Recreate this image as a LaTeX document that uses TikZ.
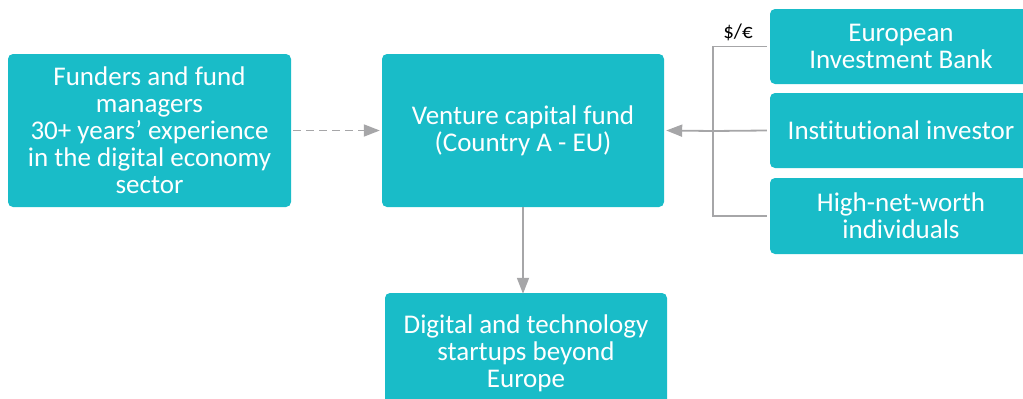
\documentclass[tikz,border=0pt]{standalone}
\usepackage{fontspec}
\setmainfont{Carlito}[Ligatures=NoCommon,Contextuals=NoAlternate,RawFeature={-liga;-dlig}]
\usetikzlibrary{arrows.meta}
\definecolor{boxc}{HTML}{19BCC8}
\definecolor{linec}{HTML}{A6A6A8}
\begin{document}
\begin{tikzpicture}[x=1pt,y=-1pt,
  box/.style={fill=boxc,rounded corners=5pt,text=white,align=center,inner sep=0pt,
    font=\fontsize{27}{27}\selectfont},
  conn/.style={draw=linec,line width=1.8pt},
  arr/.style={conn,-{Triangle[length=16pt,width=12pt]}}]
\useasboundingbox (0,0) rectangle (1023,399);
\clip (0,0) rectangle (1023,399);
\node[box,minimum width=283pt,minimum height=153pt] (fund) at (149.5,130.5)
  {Funders and fund\\managers\\30+ years’ experience\\in the digital economy\\sector};
\node[box,minimum width=282pt,minimum height=153pt] (vc) at (523,130.5)
  {Venture capital fund\\(Country A - EU)};
\node[box,minimum width=282pt,minimum height=120pt] (st) at (526,353)
  {Digital and technology\\startups beyond\\Europe};
\node[box,minimum width=262pt,minimum height=75pt] (eib) at (901,46.5)
  {European\\Investment Bank};
\node[box,minimum width=262pt,minimum height=75pt] (inst) at (901,130.5)
  {Insti\kern0pt tutional investor};
\node[box,minimum width=262pt,minimum height=76pt] (hnw) at (901,216)
  {High-net-worth\\individuals};
\coordinate (j) at (713,131);
\draw[conn] ([xshift=-3pt]eib.west) -| (j) |- ([xshift=-3pt]hnw.west);
\draw[conn] ([xshift=-3pt]inst.west) -- (j);
\draw[arr] (j) -- ([xshift=2pt]vc.east);
\draw[arr,dash pattern=on 8pt off 5pt] ([xshift=2pt]fund.east) -- ([xshift=-2pt]vc.west);
\draw[arr] (vc.south) -- ([yshift=-1pt]vc.south |- st.north);
\node[font=\fontsize{21}{24}\selectfont] (cur) at (738,32) {\$/€};
\end{tikzpicture}
\end{document}
